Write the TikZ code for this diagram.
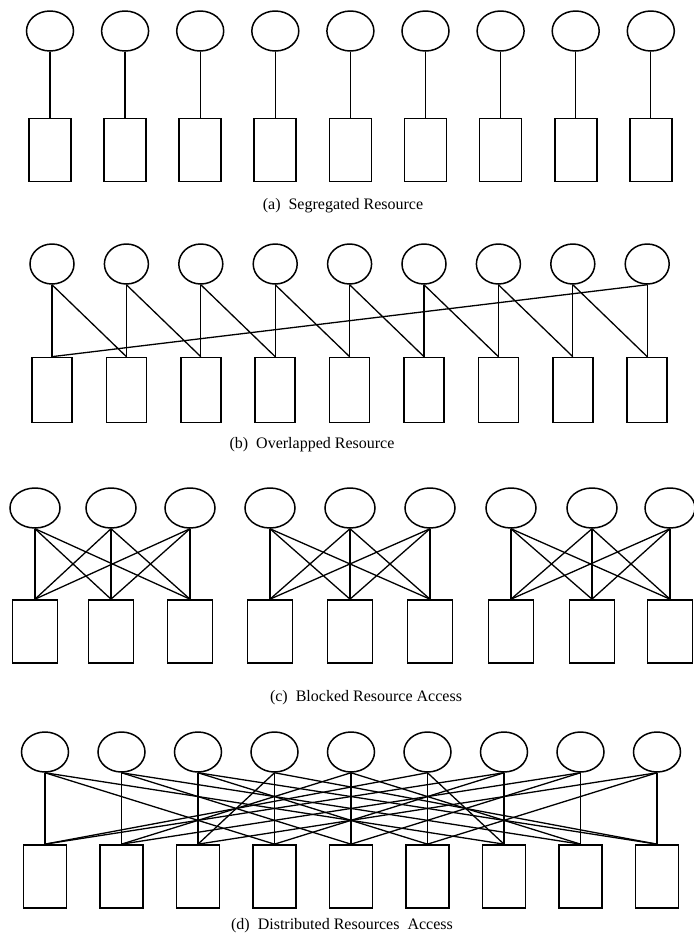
\documentclass[tikz,border=0pt]{standalone}
\usepackage{fontspec}
\setmainfont{Liberation Serif}
\usetikzlibrary{shapes.geometric}

\begin{document}
\begin{tikzpicture}[
    x=1pt, y=-1pt,
    proc/.style={ellipse, draw, line width=1.5pt, inner sep=0pt, minimum width=47pt, minimum height=40pt},
    res/.style={rectangle, draw, line width=1.7pt, inner sep=0pt, minimum width=42pt, minimum height=63pt},
    link/.style={line width=1.3pt},
    caption/.style={font=\fontsize{16}{18}\selectfont},
]
\useasboundingbox (0,0) rectangle (694,938);

% (a) one process, one resource
\foreach \i in {1,...,9} {
  \pgfmathsetmacro{\xx}{50+75.1*(\i-1)}
  \node[proc] (aP\i) at (\xx,31) {};
  \node[res] (aR\i) at (\xx,150) {};
  \draw[link] (aP\i.south) -- (aR\i.north);
}
\node[caption] (capA) at (343,206) {(a)\ \ Segregated Resource};

% (b) each process also takes the next resource
\foreach \i in {1,...,9} {
  \pgfmathsetmacro{\xx}{52+74.4*(\i-1)}
  \node[proc, minimum width=44pt, minimum height=40pt] (bP\i) at (\xx,264) {};
  \node[res, minimum width=40pt, minimum height=65pt] (bR\i) at (\xx,390) {};
  \draw[link] (bP\i.south) -- (bR\i.north);
}
\foreach \i [evaluate=\i as \j using int(\i+1)] in {1,...,8}
  \draw[link] (bP\i.south) -- (bR\j.north);
\draw[link] (bP9.south) -- (bR1.north);
\node[caption] (capB) at (312,445) {(b)\ \ Overlapped Resource};

% (c) three full blocks
\foreach \xx [count=\i] in {35,111,190,270,350,430,511,592,670} {
  \node[proc, minimum width=50pt] (cP\i) at (\xx,508) {};
  \node[res, minimum width=45pt] (cR\i) at (\xx,631.5) {};
}
\foreach \b in {0,3,6}
  \foreach \k in {1,2,3}
    \foreach \l in {1,2,3} {
      \pgfmathtruncatemacro{\p}{\b+\k}
      \pgfmathtruncatemacro{\r}{\b+\l}
      \draw[link] (cP\p.south) -- (cR\r.north);
    }
\node[caption] (capC) at (366,698) {(c)\ \ Blocked Resource Access};

% (d) spread over all resources
\foreach \i in {1,...,9} {
  \pgfmathsetmacro{\xx}{45+76.5*(\i-1)}
  \node[proc] (dP\i) at (\xx,752) {};
  \node[res, minimum width=43pt] (dR\i) at (\xx,876.5) {};
  \draw[link] (dP\i.south) -- (dR\i.north);
}
\foreach \p/\r in {1/4,1/7,2/5,2/8,3/6,3/9,4/3,4/9,5/2,5/8,6/1,6/7,7/1,7/4,8/2,8/5,9/3,9/6}
  \draw[link] (dP\p.south) -- (dR\r.north);
\node[caption] (capD) at (342,926) {(d)\ \ Distributed Resources\ \ Access};
\end{tikzpicture}
\end{document}
